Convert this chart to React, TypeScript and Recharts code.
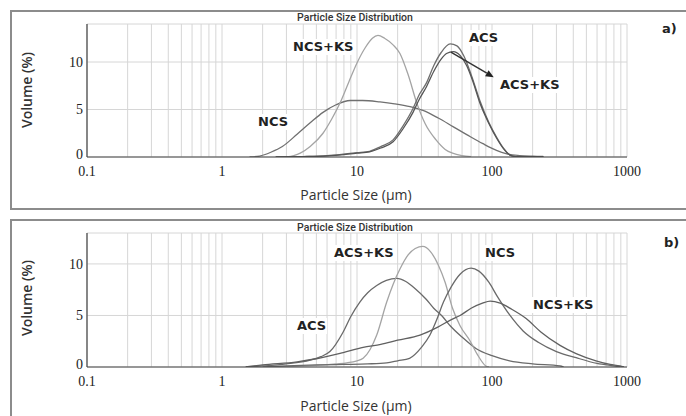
import React from 'react';
import { LineChart, Line, XAxis, YAxis, CartesianGrid, ReferenceLine } from 'recharts';

type Pair = [number, number];

const xMajorTicks = [0.1, 1, 10, 100, 1000];
const xGridTicks = [
  0.1, 0.2, 0.3, 0.4, 0.5, 0.6, 0.7, 0.8, 0.9,
  1, 2, 3, 4, 5, 6, 7, 8, 9,
  10, 20, 30, 40, 50, 60, 70, 80, 90,
  100, 200, 300, 400, 500, 600, 700, 800, 900, 1000,
];
const yTicks = [0, 5, 10];

// Panel a)
const topNcs: Pair[] = [
  [1.6, 0], [1.9, 0.1], [2.3, 0.5], [2.8, 1.1], [3.6, 2.4], [4.5, 3.6], [5.6, 4.7], [7, 5.5],
  [8.9, 5.95], [11, 5.95], [14.8, 5.8], [19, 5.6], [24.7, 5.3], [30.8, 4.9], [40, 4.1],
  [51.4, 3.2], [66, 2.3], [85.7, 1.4], [108, 0.7], [127, 0.35], [160, 0.15], [200, 0.08], [240, 0.05],
];
const topNcsKs: Pair[] = [
  [3, 0], [3.4, 0.15], [3.8, 0.4], [4.5, 1.1], [5.6, 2.5], [6.5, 4], [7.5, 5.7], [8.7, 7.9],
  [10, 9.9], [11.5, 11.5], [13, 12.5], [14.3, 12.8], [16, 12.5], [18.5, 11.8], [20.8, 10.9],
  [24, 8.6], [27.7, 5.7], [32, 3.5], [38.5, 1.8], [45, 0.8], [51, 0.4], [60, 0.15], [70, 0.05],
];
const topAcs: Pair[] = [
  [2.5, 0], [4, 0.05], [6, 0.15], [7.9, 0.3], [10, 0.45], [12.4, 0.6], [15, 1.1], [18.5, 1.8],
  [22, 3.3], [26, 5.1], [29, 6.6], [32.7, 7.8], [37, 9.6], [42, 11.0], [49, 11.9], [55, 11.7],
  [62, 10.6], [70, 8.7], [81.5, 5.9], [95, 3.6], [108, 2.1], [122, 0.9], [136, 0.2], [150, 0.05], [240, 0.05],
];
const topAcsKs: Pair[] = [
  [2.5, 0], [4, 0.05], [6, 0.12], [8, 0.25], [10, 0.4], [12.4, 0.55], [15, 0.95], [18.5, 1.6],
  [22, 3.0], [26, 4.7], [29, 6.1], [32.7, 7.4], [37, 9.0], [42, 10.3], [46, 10.9], [51.8, 11.1],
  [58, 10.7], [65, 9.6], [72, 8.0], [81.5, 5.65], [95, 3.5], [108, 2.0], [122, 0.85], [136, 0.2], [150, 0.05], [240, 0.05],
];

// Panel b)
const botAcs: Pair[] = [
  [1.5, 0], [2, 0.1], [3, 0.3], [4.5, 0.67], [5.4, 1.0], [6.3, 1.5], [7.9, 3.4], [9, 4.9],
  [10.5, 6.3], [12, 7.2], [14, 7.9], [16.5, 8.4], [19.7, 8.6], [23, 8.3], [27, 7.6], [32.4, 6.6],
  [37, 5.7], [43, 4.9], [49, 4.0], [60, 2.9], [76, 1.8], [100, 1.1], [135, 0.6], [200, 0.3], [319, 0.1], [340, 0],
];
const botAcsKs: Pair[] = [
  [2, 0], [3, 0.05], [5, 0.15], [7, 0.3], [8.4, 0.4], [10, 0.6], [11.1, 0.84], [12.5, 1.7],
  [14, 3.1], [16.6, 6.3], [18.5, 8.0], [20.8, 9.5], [24, 10.9], [27, 11.5], [30.7, 11.7],
  [35, 11.2], [40, 9.9], [45, 8.2], [51, 5.7], [58, 4.0], [69, 2.5], [78, 1.2], [90, 0.1], [95, 0],
];
const botNcs: Pair[] = [
  [2, 0], [3, 0.1], [5, 0.2], [8, 0.25], [12, 0.3], [16.6, 0.4], [20, 0.6], [24.5, 0.84],
  [30, 1.9], [34.7, 3.1], [39, 4.6], [43.7, 6.3], [50, 7.8], [58, 9.0], [70, 9.6], [80, 9.3],
  [95, 8.2], [110, 6.8], [136, 5.0], [170, 3.5], [220, 2.4], [300, 1.5], [420, 0.9], [600, 0.35], [800, 0.1], [900, 0],
];
const botNcsKs: Pair[] = [
  [1.5, 0], [2, 0.2], [3.6, 0.5], [5, 0.8], [7.9, 1.4], [11.1, 1.9], [15, 2.2], [20, 2.6],
  [29.3, 3.1], [40, 3.9], [50, 4.6], [58, 5.0], [70, 5.7], [85, 6.2], [97, 6.4], [115, 6.2],
  [140, 5.6], [179, 4.7], [230, 3.4], [319, 2.1], [420, 1.3], [589, 0.6], [750, 0.25], [887, 0.1], [950, 0],
];

const toPts = (a: Pair[]) => a.map(([x, y]) => ({ x, y }));

type Series = { name: string; data: Pair[]; color: string };

const topSeries: Series[] = [
  { name: 'NCS', data: topNcs, color: '#707070' },
  { name: 'NCS+KS', data: topNcsKs, color: '#a4a4a4' },
  { name: 'ACS', data: topAcs, color: '#6e6e6e' },
  { name: 'ACS+KS', data: topAcsKs, color: '#555555' },
];
const botSeries: Series[] = [
  { name: 'ACS', data: botAcs, color: '#6a6a6a' },
  { name: 'ACS+KS', data: botAcsKs, color: '#a4a4a4' },
  { name: 'NCS', data: botNcs, color: '#6a6a6a' },
  { name: 'NCS+KS', data: botNcsKs, color: '#606060' },
];

const arrowSegment = [{ x: 49.6, y: 11.05 }, { x: 103, y: 8.4 }];

const tickFont = { fontFamily: 'Liberation Serif', fontSize: 14, fill: '#222' };
const fmtX = (v: number) => (xMajorTicks.includes(v) ? String(v) : '');

const YTick = (p: any) => {
  const { x, y, payload } = p;
  const lift = payload.value === 0 ? -3 : 0;
  return (
    <text x={x} y={y + lift} dy="0.355em" textAnchor="end" {...tickFont}>
      {payload.value}
    </text>
  );
};

const ArrowShape = (p: any) => {
  const { x1, y1, x2, y2 } = p;
  const dx = x2 - x1;
  const dy = y2 - y1;
  const len = Math.sqrt(dx * dx + dy * dy) || 1;
  const ux = dx / len;
  const uy = dy / len;
  const s = 8;
  const bx = x2 - ux * s;
  const by = y2 - uy * s;
  const px = -uy * 3.5;
  const py = ux * 3.5;
  return (
    <g>
      <line x1={x1} y1={y1} x2={bx} y2={by} stroke="#333" strokeWidth={1.4} />
      <polygon points={`${x2},${y2} ${bx + px},${by + py} ${bx - px},${by - py}`} fill="#222" />
    </g>
  );
};

type PanelProps = {
  series: Series[];
  yMax: number;
  marginTop: number;
  marginBottom: number;
  arrow?: boolean;
};

function Panel({ series, yMax, marginTop, marginBottom, arrow }: PanelProps) {
  return (
    <LineChart
      width={686}
      height={208}
      margin={{ top: marginTop, right: 59, bottom: marginBottom, left: 47 }}
    >
      <CartesianGrid stroke="#d6d6d6" strokeWidth={1} />
      <XAxis
        dataKey="x"
        type="number"
        scale="log"
        domain={[0.1, 1000]}
        ticks={xGridTicks}
        interval={0}
        tickFormatter={fmtX}
        tick={tickFont}
        tickLine={false}
        tickSize={0}
        tickMargin={9}
        height={30}
        axisLine={{ stroke: '#444', strokeWidth: 1.2 }}
        allowDataOverflow
      />
      <XAxis
        xAxisId="top"
        orientation="top"
        type="number"
        scale="log"
        domain={[0.1, 1000]}
        tick={false}
        tickLine={false}
        height={0}
        axisLine={{ stroke: '#555', strokeWidth: 1.2 }}
      />
      <YAxis
        type="number"
        domain={[0, yMax]}
        ticks={yTicks}
        tick={<YTick />}
        tickLine={false}
        tickSize={0}
        tickMargin={4}
        width={40}
        axisLine={{ stroke: '#444', strokeWidth: 1.2 }}
        allowDataOverflow
      />
      <YAxis
        yAxisId="right"
        orientation="right"
        type="number"
        domain={[0, yMax]}
        tick={false}
        tickLine={false}
        width={0}
        axisLine={{ stroke: '#666', strokeWidth: 1 }}
      />
      {series.map((s) => (
        <Line
          key={s.name}
          data={toPts(s.data)}
          dataKey="y"
          type="monotone"
          stroke={s.color}
          strokeWidth={1.3}
          dot={false}
          isAnimationActive={false}
        />
      ))}
      {arrow && (
        <ReferenceLine segment={arrowSegment} shape={ArrowShape} ifOverflow="visible" />
      )}
    </LineChart>
  );
}

const lbl: React.CSSProperties = {
  position: 'absolute',
  fontFamily: 'DejaVu Sans',
  fontWeight: 'bold',
  fontSize: 13,
  color: '#222',
  background: '#fff',
  lineHeight: '16px',
  padding: '0 1px',
  transform: 'translateY(-50%)',
  whiteSpace: 'nowrap',
};

const axisTitle: React.CSSProperties = {
  position: 'absolute',
  fontFamily: 'Open Sans',
  fontSize: 14,
  color: '#333',
  whiteSpace: 'nowrap',
  transform: 'translate(-50%, -50%)',
  lineHeight: '18px',
};

const yTitle: React.CSSProperties = {
  ...axisTitle,
  fontWeight: 600,
  transform: 'translate(-50%, -50%) rotate(-90deg)',
};

const chartTitle: React.CSSProperties = {
  position: 'absolute',
  fontFamily: 'Roboto',
  fontSize: 10.5,
  fontWeight: 500,
  color: '#333',
  whiteSpace: 'nowrap',
  transform: 'translate(-50%, -50%)',
  lineHeight: '12px',
};

export default function App() {
  return (
    <div style={{ position: 'absolute', left: 0, top: 0, width: 686, height: 416, overflow: 'hidden', background: '#fff' }}>
      <div style={{ position: 'absolute', left: 10, top: 10, width: 690, height: 196, border: '2px solid #8c8c8c' }} />
      <div style={{ position: 'absolute', left: 10, top: 219, width: 690, height: 220, border: '2px solid #8c8c8c' }} />

      <div style={{ position: 'absolute', left: 0, top: 0 }}>
        <Panel series={topSeries} yMax={14} marginTop={24} marginBottom={21} arrow />
      </div>
      <div style={{ position: 'absolute', left: 0, top: 208 }}>
        <Panel series={botSeries} yMax={13} marginTop={25} marginBottom={19} />
      </div>

      <div style={{ ...chartTitle, left: 355, top: 18 }}>Particle Size Distribution</div>
      <div style={{ ...chartTitle, left: 355, top: 228 }}>Particle Size Distribution</div>

      <div style={{ ...yTitle, left: 27, top: 90 }}>Volume (%)</div>
      <div style={{ ...yTitle, left: 27, top: 298 }}>Volume (%)</div>

      <div style={{ ...axisTitle, left: 356, top: 195 }}>Particle Size (μm)</div>
      <div style={{ ...axisTitle, left: 356, top: 406 }}>Particle Size (μm)</div>

      <div style={{ ...lbl, left: 292, top: 47 }}>NCS+KS</div>
      <div style={{ ...lbl, left: 257, top: 122 }}>NCS</div>
      <div style={{ ...lbl, left: 468, top: 38 }}>ACS</div>
      <div style={{ ...lbl, left: 499, top: 85 }}>ACS+KS</div>
      <div style={{ ...lbl, left: 661, top: 29, background: 'transparent' }}>a)</div>

      <div style={{ ...lbl, left: 333, top: 253 }}>ACS+KS</div>
      <div style={{ ...lbl, left: 484, top: 253 }}>NCS</div>
      <div style={{ ...lbl, left: 532, top: 305 }}>NCS+KS</div>
      <div style={{ ...lbl, left: 296, top: 326 }}>ACS</div>
      <div style={{ ...lbl, left: 663, top: 243, background: 'transparent' }}>b)</div>
    </div>
  );
}
